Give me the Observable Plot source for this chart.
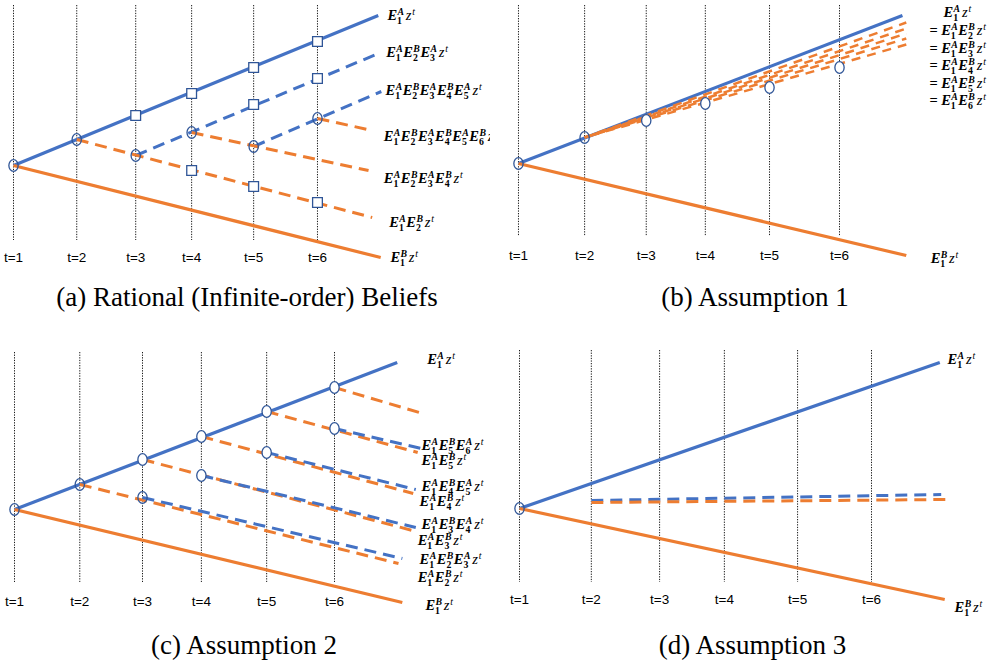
<!DOCTYPE html>
<html><head><meta charset="utf-8">
<script src="https://cdn.jsdelivr.net/npm/d3@7"></script>
<script src="https://cdn.jsdelivr.net/npm/@observablehq/plot@0.6"></script>
<style>
body{margin:0;background:#fff;}
#fig{position:relative;width:989px;height:663px;overflow:hidden;background:#fff;}
.panel{position:absolute;overflow:hidden;}
.cap{position:absolute;font-family:"Liberation Serif","DejaVu Serif",serif;font-size:27px;line-height:1;text-align:center;color:#000;white-space:nowrap;}
</style></head><body><div id="fig"></div><script>
// ---------- data ----------
const tLabels = ["t=1","t=2","t=3","t=4","t=5","t=6"];

// (a) Rational (infinite-order) beliefs
const aPeriods = [1, 2.04, 3.01, 3.93, 4.95, 6];
// [t0, v0, t1, v1, agent, order]
const aLinks = [
  [1, 0, 7.0, 15.0, "A", "first"],
  [1, 0, 7.04, -9.2, "B", "first"],
  [3.01, 1.0, 7.04, 11.3, "A", "higher"],
  [4.95, 1.9, 7.05, 7.4, "A", "higher"],
  [2.04, 2.6, 6.9, -5.2, "B", "higher"],
  [3.93, 3.3, 6.84, -0.5, "B", "higher"],
  [6, 4.7, 6.9, 3.5, "B", "higher"]
];
const aCircles = [[1,0],[2.04,2.6],[3.01,1.0],[3.93,3.3],[4.95,1.9],[6,4.7]];
const aSquares = [[3.01,5.0],[3.93,7.2],[4.95,9.8],[6,12.4],[4.95,6.1],[6,8.7],[3.93,-0.5],[4.95,-2.1],[6,-3.7]];
const aLabels = [
  [7.15, 15.0, "E_1^A z^t"],
  [7.13, 11.3, "E_1^A E_2^B E_3^A z^t"],
  [7.12, 7.5, "E_1^A E_2^B E_3^A E_4^B E_5^A z^t"],
  [7.09, 2.9, "E_1^A E_2^B E_3^A E_4^B E_5^A E_6^B z^t"],
  [7.09, -1.3, "E_1^A E_2^B E_3^A E_4^B z^t"],
  [7.18, -5.7, "E_1^A E_2^B z^t"],
  [7.2, -9.2, "E_1^B z^t"]
];

// (b) Assumption 1
const bPeriods = [1, 2.03, 2.99, 3.91, 4.91, 6];
const bLinks = [
  [1, 0, 6.98, 14.8, "A", "first"],
  [1, 0, 7.04, -9.2, "B", "first"],
  [2.03, 2.6, 7.04, 14.1, "B", "higher"],
  [2.03, 2.6, 7.04, 13.5, "B", "higher"],
  [2.03, 2.6, 7.04, 13.0, "B", "higher"],
  [2.03, 2.6, 7.04, 12.5, "B", "higher"],
  [2.03, 2.6, 7.04, 11.9, "B", "higher"]
];
const bCircles = [[1,0],[2.03,2.6],[2.99,4.3],[3.91,6.0],[4.91,7.6],[6,9.6]];
const bLabels = [
  [7.62, 15.1, "E_1^A z^t"],
  [7.4, 13.3, "= E_1^A E_2^B z^t"],
  [7.4, 11.5, "= E_1^A E_3^B z^t"],
  [7.4, 9.8, "= E_1^A E_4^B z^t"],
  [7.4, 8.0, "= E_1^A E_5^B z^t"],
  [7.4, 6.3, "= E_1^A E_6^B z^t"],
  [7.42, -9.5, "E_1^B z^t"]
];

// (c) Assumption 2
const cPeriods = [1, 2.02, 3.0, 3.92, 4.94, 6];
const cLinks = [
  [1, 0, 6.98, 14.7, "A", "first"],
  [1, 0, 7.06, -9.3, "B", "first"],
  [2.02, 2.5, 7.0, -5.4, "B", "higher"],
  [3.0, 1.2, 7.06, -4.9, "A", "higher"],
  [3.0, 5.0, 7.22, -2.1, "B", "higher"],
  [3.92, 3.4, 7.27, -1.8, "A", "higher"],
  [3.92, 7.3, 7.23, 1.6, "B", "higher"],
  [4.94, 5.7, 7.27, 2.0, "A", "higher"],
  [4.94, 9.8, 7.3, 5.7, "B", "higher"],
  [6, 8.1, 7.36, 6.1, "A", "higher"],
  [6, 12.2, 7.38, 9.6, "B", "higher"]
];
const cCircles = [[1,0],[2.02,2.5],[3.0,1.2],[3.0,5.0],[3.92,7.3],[4.94,9.8],[6,12.2],[3.92,3.4],[4.94,5.7],[6,8.1]];
const cLabels = [
  [7.45, 15.0, "E_1^A z^t"],
  [7.36, 6.4, "E_1^A E_5^B E_6^A z^t"],
  [7.36, 4.9, "E_1^A E_5^B z^t"],
  [7.36, 2.3, "E_1^A E_4^B E_5^A z^t"],
  [7.33, 0.8, "E_1^A E_4^B z^t"],
  [7.36, -1.5, "E_1^A E_3^B E_4^A z^t"],
  [7.3, -3.1, "E_1^A E_3^B z^t"],
  [7.33, -5.0, "E_1^A E_2^B E_3^A z^t"],
  [7.3, -6.8, "E_1^A E_2^B z^t"],
  [7.42, -9.6, "E_1^B z^t"]
];

// (d) Assumption 3
const dPeriods = [1, 2.02, 2.99, 3.91, 4.95, 6];
const dLinks = [
  [1, 0, 6.97, 14.6, "A", "first"],
  [1, 0, 7.04, -9.1, "B", "first"],
  [2.02, 0.8, 6.99, 1.4, "A", "higher"],
  [2.02, 0.6, 7.05, 0.9, "B", "higher"]
];
const dCircles = [[1,0]];
const dLabels = [
  [7.08, 14.9, "E_1^A z^t"],
  [7.18, -9.9, "E_1^B z^t"]
];

const captions = ["(a) Rational (Infinite-order) Beliefs", "(b) Assumption 1", "(c) Assumption 2", "(d) Assumption 3"];

// ---------- drawing ----------
const BLUE = "#4472C4", ORANGE = "#ED7D31", MARK = "#2F5597";

const ellipse = {
  draw(ctx, size) {
    const r = Math.sqrt(size / Math.PI), rx = r * 0.8, ry = r, k = 0.5523;
    ctx.moveTo(rx, 0);
    ctx.bezierCurveTo(rx, ry * k, rx * k, ry, 0, ry);
    ctx.bezierCurveTo(-rx * k, ry, -rx, ry * k, -rx, 0);
    ctx.bezierCurveTo(-rx, -ry * k, -rx * k, -ry, 0, -ry);
    ctx.bezierCurveTo(rx * k, -ry, rx, -ry * k, rx, 0);
    ctx.closePath();
  }
};

const panels = [
  {periods: aPeriods, links: aLinks, circles: aCircles, hollow: 6, squares: aSquares, labels: aLabels,
   left: 0, top: 0, width: 490, height: 280, xDomain: [0.786, 8.846], yDomain: [-11.5, 16.5],
   ruleTop: 16.0, ruleBottom: -7.5, tLabelY: -9.2, dash: "12,7", dashWidth: 3, stagger: false},
  {periods: bPeriods, links: bLinks, circles: bCircles, hollow: 2, squares: [], labels: bLabels,
   left: 500, top: 0, width: 489, height: 280, xDomain: [0.72, 8.336], yDomain: [-11.7, 16.3],
   ruleTop: 15.8, ruleBottom: -7.3, tLabelY: -9.2, dash: "9,7", dashWidth: 2.5, stagger: true},
  {periods: cPeriods, links: cLinks, circles: cCircles, hollow: 3, squares: [], labels: cLabels,
   left: 0, top: 330, width: 494, height: 292, xDomain: [0.781, 8.5], yDomain: [-11.3, 17.9],
   ruleTop: 15.7, ruleBottom: -7.3, tLabelY: -9.2, dash: "12,7", dashWidth: 3, stagger: false},
  {periods: dPeriods, links: dLinks, circles: dCircles, hollow: 1, squares: [], labels: dLabels,
   left: 500, top: 330, width: 489, height: 292, xDomain: [0.73, 7.676], yDomain: [-11.4, 17.8],
   ruleTop: 15.8, ruleBottom: -7.4, tLabelY: -9.1, dash: "12,7", dashWidth: 3, stagger: false}
];

const NS = "http://www.w3.org/2000/svg";
function span(parent, txt, attrs) {
  const e = document.createElementNS(NS, "tspan");
  e.textContent = txt;
  for (const k in attrs) e.setAttribute(k, attrs[k]);
  parent.appendChild(e);
  return e;
}
function mathify(svg) {
  svg.querySelectorAll("text").forEach(t => {
    const src = t.textContent;
    if (!/[_^]/.test(src)) return;
    t.textContent = "";
    let off = 0, carryDx = 0;
    const SUP = -5.6, SUB = 3.9, SMALL = 9.8;
    src.split(" ").forEach((tok, i) => {
      if (tok === "=") {
        span(t, "=", {"font-style": "normal", "font-weight": "bold", dy: -off, dx: carryDx});
        off = 0; carryDx = 3;
        return;
      }
      const m = tok.match(/^([A-Za-z])(?:_(\w))?(?:\^(\w))?$/);
      const base = m[1], sub = m[2], sup = m[3];
      const isE = base === "E";
      span(t, base, {"font-style": "italic", "font-weight": isE ? "bold" : "normal",
        dy: -off, dx: carryDx + (i > 0 ? (isE ? 0.5 : 1.8) : 0)});
      off = 0; carryDx = 0;
      let supW = 0, subW = 0;
      if (sup) {
        const pad = isE ? 0.4 : 0.8;
        const s = span(t, sup, {"font-size": SMALL, "font-style": "italic", "font-weight": isE ? "bold" : "normal", dy: SUP - off, dx: pad});
        off = SUP; supW = s.getComputedTextLength() + pad;
      }
      if (sub) {
        const b = span(t, sub, {"font-size": SMALL, "font-style": "normal", "font-weight": "bold", dy: SUB - off, dx: -supW});
        off = SUB; subW = b.getComputedTextLength();
        carryDx = Math.max(0, supW - subW);
      }
    });
  });
}

const fig = document.getElementById("fig");
panels.forEach((p, idx) => {
  const xy = {x1: d => d[0], y1: d => d[1], x2: d => d[2], y2: d => d[3], stroke: d => d[4]};
  const higher = p.links.filter(d => d[5] !== "first");
  const higherMarks = p.stagger
    ? higher.map((d, i) => Plot.link([d], {...xy, strokeWidth: p.dashWidth, strokeDasharray: p.dash, strokeDashoffset: i * 6 + 2}))
    : [Plot.link(higher, {...xy, strokeWidth: p.dashWidth, strokeDasharray: p.dash})];
  const plot = Plot.plot({
    width: p.width, height: p.height,
    marginTop: 0, marginRight: 0, marginBottom: 0, marginLeft: 0,
    x: {domain: p.xDomain, axis: null},
    y: {domain: p.yDomain, axis: null},
    color: {domain: ["A", "B"], range: [BLUE, ORANGE]},
    style: {background: "transparent"},
    marks: [
      Plot.ruleX(p.periods, {x: d => d, y1: () => p.ruleTop, y2: () => p.ruleBottom,
        stroke: "#000", strokeWidth: 0.9, strokeDasharray: "1.3,1.3"}),
      Plot.text(tLabels, {x: (d, i) => p.periods[i], y: () => p.tLabelY, text: d => d,
        fontFamily: "Liberation Sans, Arial, sans-serif", fontSize: 13.5, fill: "#000"}),
      Plot.link(p.links.filter(d => d[5] === "first"), {...xy, strokeWidth: 3.2}),
      ...higherMarks,
      Plot.dot(p.squares, {x: d => d[0], y: d => d[1], symbol: "square", r: 5.5, stroke: MARK, fill: "white", strokeWidth: 1.3}),
      Plot.dot(p.circles.slice(0, p.hollow), {x: d => d[0], y: d => d[1], symbol: ellipse, r: 5.8, stroke: MARK, fill: "none", strokeWidth: 1.3}),
      Plot.dot(p.circles.slice(p.hollow), {x: d => d[0], y: d => d[1], symbol: ellipse, r: 5.8, stroke: MARK, fill: "white", strokeWidth: 1.3}),
      Plot.text(p.labels, {x: d => d[0], y: d => d[1], text: d => d[2], textAnchor: "start",
        fontFamily: "Liberation Serif, DejaVu Serif, serif", fontSize: 14.5, fill: "#000"})
    ]
  });
  const div = document.createElement("div");
  div.className = "panel";
  div.style.left = p.left + "px"; div.style.top = p.top + "px";
  div.style.width = p.width + "px"; div.style.height = p.height + "px";
  div.appendChild(plot);
  fig.appendChild(div);
  mathify(plot);
});

const capPos = [[0, 284, 494], [500, 284, 510], [0, 632, 488], [500, 632, 505]];
captions.forEach((c, i) => {
  const d = document.createElement("div");
  d.className = "cap";
  d.textContent = c;
  d.style.left = capPos[i][0] + "px"; d.style.top = capPos[i][1] + "px"; d.style.width = capPos[i][2] + "px";
  fig.appendChild(d);
});
</script></body></html>
